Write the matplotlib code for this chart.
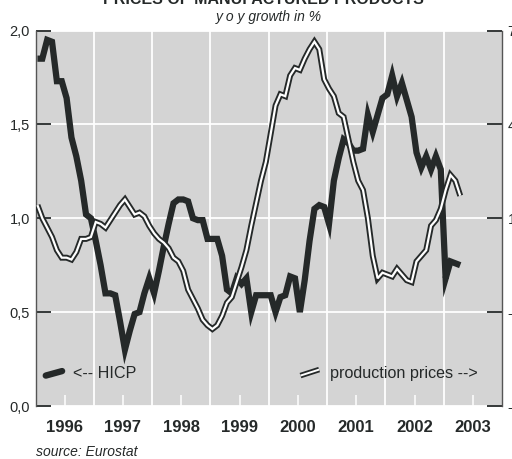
import matplotlib
matplotlib.use("Agg")
import matplotlib.pyplot as plt
from matplotlib import font_manager
import numpy as np

# ---------------- data ----------------
start_year = 1996
years = [1996, 1997, 1998, 1999, 2000, 2001, 2002, 2003]

# HICP manufactured goods, y-o-y % (left axis), monthly from Jan 1996
hicp = [1.85, 1.85, 1.95, 1.94, 1.73, 1.73, 1.64, 1.43, 1.33, 1.20, 1.02, 1.00,
        0.88, 0.75, 0.60, 0.60, 0.59, 0.45, 0.30, 0.40, 0.49, 0.50, 0.60, 0.68,
        0.60, 0.72, 0.85, 0.97, 1.08, 1.10, 1.10, 1.09, 1.00, 0.99, 0.99, 0.89,
        0.89, 0.89, 0.80, 0.62, 0.60, 0.68, 0.65, 0.68, 0.50, 0.59, 0.59, 0.59,
        0.59, 0.50, 0.58, 0.59, 0.69, 0.68, 0.50, 0.67, 0.88, 1.05, 1.07, 1.06,
        0.97, 1.20, 1.32, 1.42, 1.40, 1.36, 1.36, 1.37, 1.55, 1.46, 1.55, 1.64,
        1.66, 1.76, 1.65, 1.72, 1.63, 1.54, 1.35, 1.27, 1.33, 1.26, 1.33, 1.26,
        0.68, 0.77, 0.76, 0.75]

# production prices of manufactured products, y-o-y % (right axis)
prod = [1.42, 1.00, 0.70, 0.40, -0.02, -0.26, -0.26, -0.32, -0.08, 0.34, 0.34, 0.40,
        0.88, 0.82, 0.70, 0.94, 1.18, 1.42, 1.60, 1.36, 1.12, 1.18, 1.06, 0.76,
        0.52, 0.34, 0.22, 0.04, -0.26, -0.38, -0.68, -1.28, -1.58, -1.88, -2.24, -2.42,
        -2.54, -2.42, -2.12, -1.70, -1.52, -1.04, -0.56, -0.02, 0.76, 1.48, 2.20, 2.80,
        3.70, 4.60, 4.96, 4.90, 5.56, 5.80, 5.74, 6.10, 6.40, 6.64, 6.40, 5.44,
        5.14, 4.90, 4.36, 4.24, 3.52, 2.80, 2.20, 1.90, 1.00, -0.20, -0.92, -0.74,
        -0.80, -0.86, -0.62, -0.80, -0.98, -1.04, -0.38, -0.20, -0.02, 0.76, 0.94, 1.30,
        1.90, 2.38, 2.20, 1.72]

left_ticks = [0.0, 0.5, 1.0, 1.5, 2.0]
left_labels = ["0,0", "0,5", "1,0", "1,5", "2,0"]
right_ticks = [-5, -2, 1, 4, 7]
right_labels = ["-5", "-2", "1", "4", "7"]

title = "PRICES OF MANUFACTURED PRODUCTS"
subtitle = "y o y growth in %"
source = "source: Eurostat"

# ---------------- style ----------------
names = {f.name for f in font_manager.fontManager.ttflist}
main_font = "Liberation Sans Narrow" if "Liberation Sans Narrow" in names else "Liberation Sans"
plt.rcParams["font.family"] = [main_font, "DejaVu Sans"]

dark = "#252929"
bg = "#d4d4d4"
W, H = 512, 459

fig = plt.figure(figsize=(W / 100, H / 100), dpi=100)
L, R, T, B = 35.5, 502, 30.5, 406
ax = fig.add_axes([L / W, 1 - B / H, (R - L) / W, (B - T) / H])
ax.set_facecolor(bg)

x = start_year + (np.arange(len(hicp)) + 0.4) / 12.0

ax.plot(x, hicp, color=dark, lw=4.5, solid_joinstyle="miter",
        solid_capstyle="butt", zorder=3)
ax.set_xlim(years[0], years[-1] + 1)
ax.set_ylim(0, 2.0)

# grid
ax.set_xticks([y + 0.5 for y in years])
ax.set_xticklabels([str(y) for y in years], fontsize=12, fontweight="bold", color=dark)
ax.set_xticks(list(range(years[0] + 1, years[-1] + 1)), minor=True)
ax.grid(which="minor", axis="x", color="white", lw=1.3, zorder=1)
ax.tick_params(axis="x", which="major", direction="in", length=8, width=1.1,
               color="white", pad=10)
ax.tick_params(axis="x", which="minor", length=0)

ax.set_yticks(left_ticks)
ax.set_yticklabels(left_labels, fontsize=10.5, color=dark)
ax.grid(which="major", axis="y", color="white", lw=1.3, zorder=1)
ax.tick_params(axis="y", which="major", direction="in", length=10.5, width=1.3,
               color=dark, pad=4)

for s in ["top", "bottom", "right"]:
    ax.spines[s].set_visible(False)
ax.spines["left"].set_color("#555555")
ax.spines["left"].set_linewidth(1.0)

ax2 = ax.twinx()
ax2.plot(x, prod, color=dark, lw=4.3, solid_joinstyle="miter",
         solid_capstyle="butt", zorder=3)
ax2.plot(x, prod, color="white", lw=1.6, solid_joinstyle="miter",
         solid_capstyle="butt", zorder=4)
ax2.set_ylim(right_ticks[0], right_ticks[-1])
ax2.set_yticks(right_ticks)
ax2.set_yticklabels(right_labels, fontsize=10.5, color=dark)
ax2.tick_params(axis="y", direction="in", length=10.5, width=1.3, color=dark, pad=4)
for s in ["top", "bottom", "left"]:
    ax2.spines[s].set_visible(False)
ax2.spines["right"].set_color("#555555")
ax2.spines["right"].set_linewidth(1.0)

# legend (drawn as annotations inside the plot area)
ax.plot([0.022, 0.057], [0.081, 0.093], transform=ax.transAxes, color=dark,
        lw=4.6, solid_capstyle="round", zorder=5)
ax.text(0.080, 0.086, "<-- HICP", transform=ax.transAxes, fontsize=11.6,
        color=dark, va="center", ha="left", zorder=5)
ax.plot([0.568, 0.608], [0.081, 0.097], transform=ax.transAxes, color=dark,
        lw=4.0, solid_capstyle="butt", zorder=5)
ax.plot([0.568, 0.608], [0.081, 0.097], transform=ax.transAxes, color="white",
        lw=1.4, solid_capstyle="butt", zorder=6)
ax.text(0.631, 0.086, "production prices -->", transform=ax.transAxes,
        fontsize=11.6, color=dark, va="center", ha="left", zorder=5)

fig.text(263 / W, 1 - 4.5 / H, title, ha="center", va="baseline",
         fontsize=11.5, fontweight="bold", color=dark)
fig.text(269 / W, 1 - 21.5 / H, subtitle, ha="center", va="baseline",
         fontsize=10, style="italic", color=dark)
fig.text(36 / W, 1 - 456 / H, source, ha="left", va="baseline",
         fontsize=10, style="italic", color=dark)

fig.savefig("out.png", dpi=100, facecolor="white")
